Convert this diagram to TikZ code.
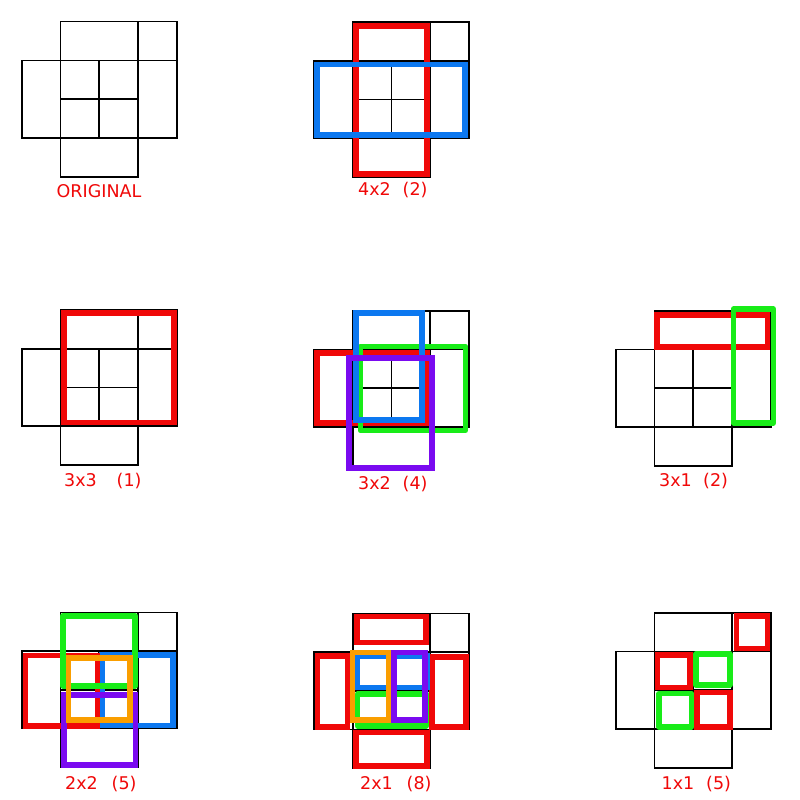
\documentclass[tikz,border=0pt]{standalone}
\usepackage{fontspec}
\setmainfont{DejaVu Sans}
\definecolor{cred}{RGB}{240,8,8}
\definecolor{cblue}{RGB}{12,120,240}
\definecolor{cgreen}{RGB}{24,236,24}
\definecolor{cpurple}{RGB}{122,10,240}
\definecolor{corange}{RGB}{250,158,0}
\tikzset{
  gridline/.style={draw=black,line width=1.6pt},
  box/.style={line width=5.6pt,line join=miter},
  redbox/.style={box,draw=cred},
  bluebox/.style={box,draw=cblue},
  greenbox/.style={box,draw=cgreen,line join=round},
  purplebox/.style={box,draw=cpurple},
  orangebox/.style={box,draw=corange},
  lbl/.style={anchor=base west,inner sep=0pt,text=cred,font=\fontsize{17.5}{20}\selectfont}
}
\newcommand{\basegrid}[2]{%
  \begin{scope}[shift={(#1,#2)}]
    \draw[gridline] (38.75,0) rectangle (116.25,38.75);
    \draw[gridline] (116.25,0) rectangle (155,38.75);
    \draw[gridline] (0,38.75) rectangle (38.75,116.25);
    \draw[gridline] (38.75,38.75) rectangle (77.5,77.5);
    \draw[gridline] (77.5,38.75) rectangle (116.25,77.5);
    \draw[gridline] (38.75,77.5) rectangle (77.5,116.25);
    \draw[gridline] (77.5,77.5) rectangle (116.25,116.25);
    \draw[gridline] (116.25,38.75) rectangle (155,116.25);
    \draw[gridline] (38.75,116.25) rectangle (116.25,155);
  \end{scope}}
\begin{document}
\begin{tikzpicture}[x=1pt,y=-1pt]
\useasboundingbox[fill=white] (0,0) rectangle (800,800);
% panel 1
\basegrid{21.7}{21.7}
\node[lbl] (l1) at (56.5,197.5) {ORIGINAL};
% panel 2
\basegrid{314}{22}
\draw[redbox] (356,26) rectangle (427,174);
\draw[bluebox] (317,64.7) rectangle (465,135);
\node[lbl] (l2a) at (358,195) {4x2};
\node[lbl] (l2b) at (402.5,195) {(2)};
% panel 3
\basegrid{21.7}{310}
\draw[redbox] (63.7,313) rectangle (174,422.5);
\node[lbl] (l3a) at (64,486) {3x3};
\node[lbl] (l3b) at (116.5,486) {(1)};
% panel 4
\basegrid{314}{310.7}
\draw[redbox] (317,353) rectangle (427,423);
\draw[greenbox] (360.3,346.3) rectangle (465.3,430.3);
\draw[bluebox] (355.7,313) rectangle (422,420);
\draw[purplebox] (349,358) rectangle (432,468);
\node[lbl] (l4a) at (358,489) {3x2};
\node[lbl] (l4b) at (402.5,489) {(4)};
% panel 5
\basegrid{615.7}{310.7}
\draw[redbox] (657,314.7) rectangle (767.5,346.8);
\draw[greenbox] (733.3,309.2) rectangle (773.3,422.8);
\node[lbl] (l5a) at (659,486) {3x1};
\node[lbl] (l5b) at (703,486) {(2)};
% panel 6
\basegrid{21.7}{612.3}
\draw[bluebox] (102,654.7) rectangle (173,725.5);
\draw[redbox] (25.3,655.3) rectangle (97.5,725.8);
\draw[greenbox] (62.8,615.8) rectangle (135.2,685.8);
\draw[purplebox] (64,695) rectangle (135.5,765);
\draw[orangebox] (68.5,657.8) rectangle (130.2,720.2);
\node[lbl] (l6a) at (65,789) {2x2};
\node[lbl] (l6b) at (111.5,789) {(5)};
% panel 7
\basegrid{314}{613.3}
\draw[redbox] (357.2,616.5) rectangle (426.2,642.5);
\draw[redbox] (317.5,655.8) rectangle (347.5,727.2);
\draw[redbox] (431.8,656.7) rectangle (465.8,726.8);
\draw[redbox] (355.8,732.5) rectangle (426.8,765.8);
\draw[bluebox] (357.5,655.8) rectangle (427.5,687.5);
\draw[greenbox] (357.5,694.2) rectangle (426.2,725.8);
\draw[orangebox] (352.5,652.5) rectangle (389.2,720.2);
\draw[purplebox] (394.2,652.5) rectangle (425.2,720.2);
\node[lbl] (l7a) at (360,789) {2x1};
\node[lbl] (l7b) at (406.5,789) {(8)};
% panel 8
\basegrid{615.7}{612.7}
\draw[redbox] (736.5,615.8) rectangle (767.5,648.5);
\draw[redbox] (657.5,654.8) rectangle (689.8,687.5);
\draw[greenbox] (695.8,654.2) rectangle (729.8,684.8);
\draw[greenbox] (659.2,693.5) rectangle (691.5,726.8);
\draw[redbox] (696.8,692.5) rectangle (729.8,726.7);
\node[lbl] (l8a) at (661.5,789) {1x1};
\node[lbl] (l8b) at (706,789) {(5)};
\end{tikzpicture}
\end{document}
